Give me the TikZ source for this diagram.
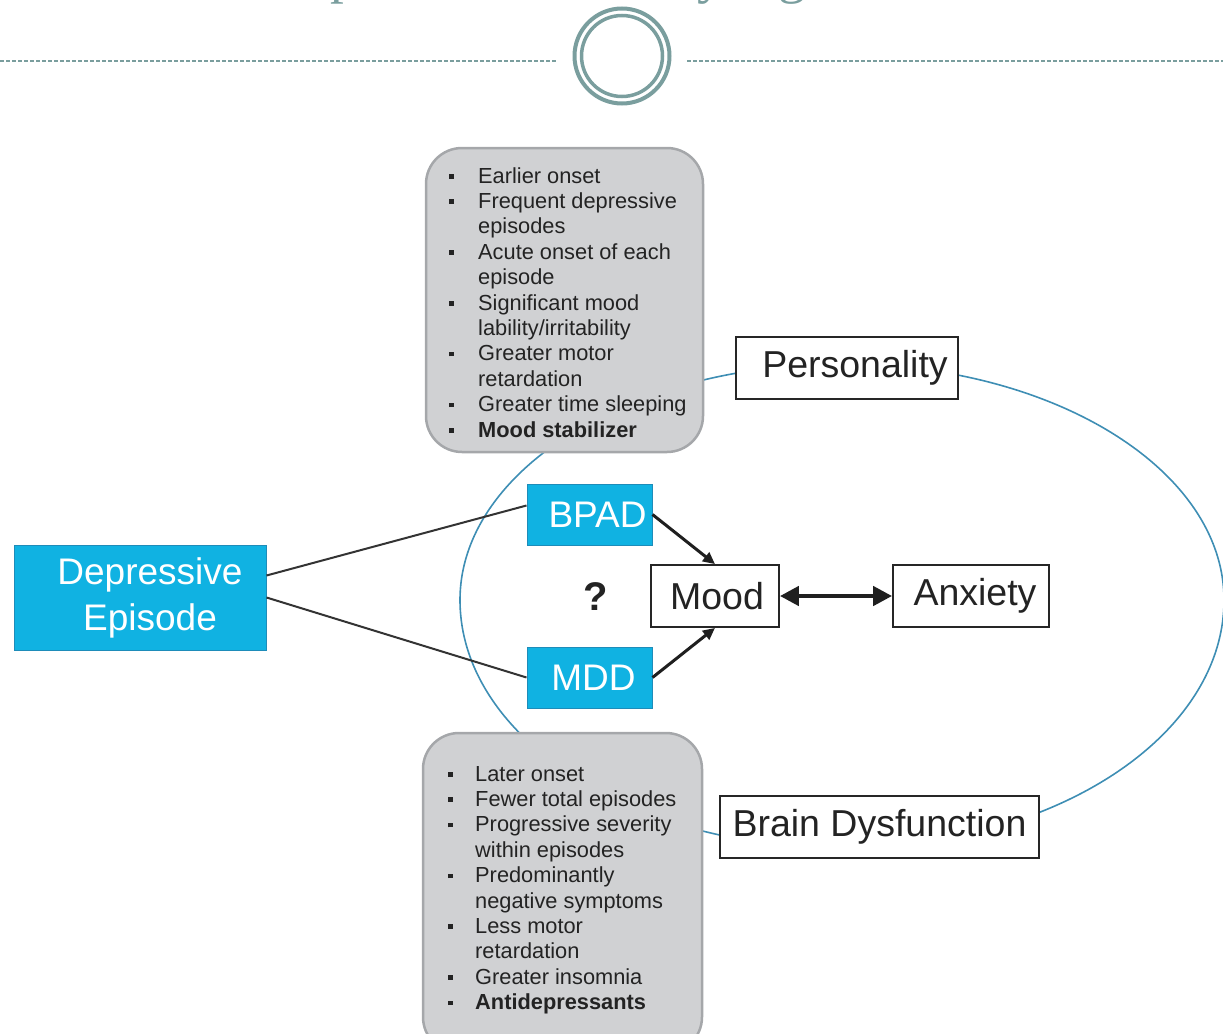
\documentclass[tikz,border=0pt]{standalone}
\usepackage{fontspec}
\setmainfont{Liberation Sans}
\newfontfamily\titleserif{Liberation Serif}
\usetikzlibrary{arrows.meta}
\definecolor{tealgrey}{RGB}{122,158,158}
\definecolor{cyanbox}{RGB}{16,178,226}
\definecolor{cyanedge}{RGB}{30,140,185}
\definecolor{ringblue}{RGB}{62,142,180}
\definecolor{boxgray}{RGB}{208,209,211}
\definecolor{edgegray}{RGB}{165,167,170}
\definecolor{txtdark}{RGB}{35,35,35}
\newcommand{\blt}{\rule[4.5pt]{4.5pt}{4.5pt}}
\begin{document}
\begin{tikzpicture}[x=1pt,y=-1pt,
  bluebox/.style={draw=cyanedge, line width=1pt, fill=cyanbox, text=white, inner sep=0pt,
    font=\fontsize{37}{46}\selectfont, align=center},
  whitebox/.style={draw=black!85, line width=1.8pt, fill=white, inner sep=0pt,
    font=\fontsize{37.5}{44}\selectfont, text=txtdark, minimum height=62pt},
  graybox/.style={draw=edgegray, line width=2.5pt, fill=boxgray, rounded corners=36pt},
  bullets/.style={anchor=base west, inner sep=0pt, text=txtdark, font=\fontsize{21.8}{25.4}\selectfont},
  thinline/.style={draw=black!80, line width=2pt},
  arr/.style={draw=black!88, line width=3pt, -{Triangle[length=12pt,width=11pt]}},
  dblarr/.style={draw=black!88, line width=4.5pt, {Triangle[length=19pt,width=19pt]}-{Triangle[length=19pt,width=19pt]}},
  ring/.style={draw=ringblue, line width=1.6pt},
  titlefrag/.style={anchor=base west, inner sep=0pt, text=tealgrey, font=\titleserif\fontsize{55}{60}\selectfont}
]
\useasboundingbox (0,0) rectangle (1223,1033);

% title fragments (cut off at top)
\node[titlefrag] (t1) at (330,-7) {p};
\node[titlefrag] (t2) at (697,-7) {y};
\node[titlefrag] (t3) at (778,-7) {g};

% dashed rule with double circle
\coordinate (dl0) at (0,61);
\coordinate (dl1) at (556,61);
\coordinate (dr0) at (687,61);
\coordinate (dr1) at (1223,61);
\draw[tealgrey, line width=1.3pt, dash pattern=on 4pt off 2pt] (dl0) -- (dl1) (dr0) -- (dr1);
\coordinate (cc) at (622,56);
\draw[tealgrey, line width=4pt] (cc) circle[radius=47.5];
\draw[tealgrey, line width=3.5pt] (cc) circle[radius=40.5];

% large ellipse behind everything
\coordinate (eleft) at (460,600);
\draw[ring] (eleft) arc[start angle=180, end angle=360, x radius=382, y radius=236]
                    arc[start angle=0, end angle=180, x radius=382, y radius=248];

% gray boxes
\node[graybox, minimum width=277pt, minimum height=304pt] (topbox) at (564.5,300) {};
\node[graybox, minimum width=279pt, minimum height=320pt] (botbox) at (562.5,893) {};

\node[bullets] (toplist) at (449,183) {\begin{tabular}[t]{@{}p{29pt}@{}l@{}}
\blt & Earlier onset\\
\blt & Frequent depressive\\
     & episodes\\
\blt & Acute onset of each\\
     & episode\\
\blt & Significant mood\\
     & lability/irritability\\
\blt & Greater motor\\
     & retardation\\
\blt & Greater time sleeping\\
\blt & \textbf{Mood stabilizer}
\end{tabular}};

\node[bullets] (botlist) at (448,781) {\begin{tabular}[t]{@{}p{27pt}@{}l@{}}
\blt & Later onset\\
\blt & Fewer total episodes\\
\blt & Progressive severity\\
     & within episodes\\
\blt & Predominantly\\
     & negative symptoms\\
\blt & Less motor\\
     & retardation\\
\blt & Greater insomnia\\
\blt & \textbf{Antidepressants}
\end{tabular}};

% blue boxes
\node[bluebox, minimum width=252pt, minimum height=105pt] (dep) at (140,597.5)
  {\hspace*{20pt}Depressive\\\hspace*{20pt}Episode};
\node[bluebox, minimum width=125pt, minimum height=61pt] (bpad) at (589.5,514.5) {\hspace*{16pt}BPAD};
\node[bluebox, minimum width=125pt, minimum height=61pt] (mdd) at (589.5,677.5) {\hspace*{8pt}MDD};

% white boxes
\node[whitebox, minimum width=128pt] (mood) at (715,596) {\hspace*{4pt}Mood};
\node[whitebox, minimum width=156pt] (anx) at (971,596) {\hspace*{8pt}Anxiety};
\node[whitebox, minimum width=222pt] (pers) at (847,368) {\hspace*{16pt}Personality};
\node[whitebox, minimum width=319pt] (brain) at (879.5,827) {Brain Dysfunction};

\node[inner sep=0pt, font=\bfseries\fontsize{40}{44}\selectfont, text=txtdark] (q) at (596,597) {?};

% connectors
\draw[thinline] ([yshift=22pt]dep.east) -- ([yshift=9pt]bpad.west);
\draw[thinline] (dep.east) -- (mdd.west);
\draw[arr] (bpad.east) -- (mood.north);
\draw[arr] (mdd.east) -- (mood.south);
\draw[dblarr] (mood.east) -- (anx.west);
\end{tikzpicture}
\end{document}
